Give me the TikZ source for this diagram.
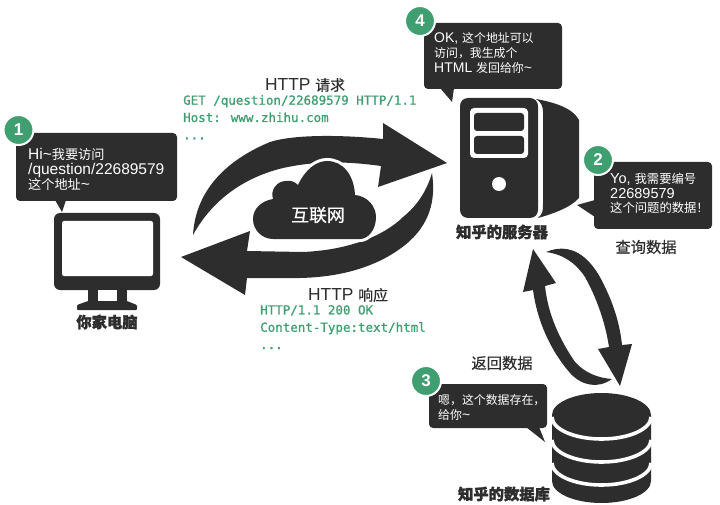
\documentclass[tikz,border=0pt]{standalone}
\usepackage{fontspec}
\setmainfont{Liberation Sans}
\newfontfamily\cjk[Scale=0.85,BoldFeatures={FakeBold=1.6}]{Noto Sans CJK SC}
\newfontfamily\cjkmid[Scale=0.85,FakeBold=0.5]{Noto Sans CJK SC}
\newfontfamily\codefont[FakeBold=1]{DejaVu Sans Mono}
\newcommand{\zh}[1]{{\cjk #1}}
\newcommand{\zm}[1]{{\cjkmid #1}}
\usetikzlibrary{positioning}
\definecolor{ink}{HTML}{2D2D2D}
\definecolor{leaf}{HTML}{3F9F70}
\tikzset{
  blob/.style={fill=ink},
  gap/.style={fill=white},
  cut/.style={draw=white,line width=3.6pt},
  bubble/.style={fill=ink,rounded corners=4pt},
  badge/.style={circle,fill=leaf,draw=white,line width=2pt,minimum size=30pt,text=white,font=\fontsize{17}{17}\selectfont\bfseries},
  saytext/.style={anchor=west,align=left,text=white,font=\fontsize{15.5}{15}\selectfont},
  title/.style={text=ink,font=\fontsize{17.4}{17}\selectfont},
  caption/.style={text=ink,font=\fontsize{18}{18}\selectfont\cjkmid},
  machine/.style={text=ink,font=\fontsize{18}{18}\selectfont\cjk\bfseries},
  codetext/.style={anchor=north west,align=left,text=leaf,font=\fontsize{12.5}{17.3}\selectfont\codefont}
}
\begin{document}
\begin{tikzpicture}[x=1pt,y=1pt]
                    \tikzstyle{every node}+=[inner sep=0pt]
                    \useasboundingbox (0,0) rectangle (720,-505);
                    \fill [bubble] (16,-133) rectangle (177,-201);
                    \fill [blob] (55,-200) -- (62,-212) -- (66,-200) -- cycle;
                    \node [saytext] (say1) at (28,-169) {Hi\textasciitilde\zh{我要访问}\\/question/22689579\\\zh{这个地址}\textasciitilde};
                    \node [badge] (badge1) at (18.5,-130) {1};
                    \fill [blob, rounded corners=6pt] (54,-213) rectangle (160,-290);
                    \fill [gap, rounded corners=2pt] (62,-221) rectangle (153,-276);
                    \fill [blob] (88,-289) rectangle (127,-302);
                    \fill [gap] (98,-290) rectangle (117,-301);
                    \fill [blob, rounded corners=1pt] (77,-310) -- (77,-305) -- (88,-301) -- (127,-301) -- (137,-305) -- (137,-310) -- cycle;
                    \node [machine] (pc) at (107,-322) {你家电脑};
                    \fill [blob] (193,-235) .. controls (195,-200) and (215,-165) .. (270,-142) .. controls (295,-134) and (345,-135) .. (383,-139) -- (383,-123) -- (447,-163) -- (378,-187) -- (381,-166) .. controls (345,-161) and (315,-161) .. (283,-168) .. controls (250,-176) and (215,-195) .. (193,-235) -- cycle;
                    \fill [blob] (432,-173) .. controls (436,-200) and (430,-225) .. (405,-245) .. controls (380,-265) and (345,-277) .. (300,-278) -- (247,-278) -- (245,-295) -- (181,-257) -- (250,-231) -- (247,-251) -- (303,-252) .. controls (350,-250) and (385,-235) .. (403,-217) .. controls (418,-205) and (427,-190) .. (432,-173) -- cycle;
                    \draw [white, line width=6pt, fill=white] (273,-239) .. controls (262,-239) and (253,-230) .. (253,-219) .. controls (253,-209) and (261,-201) .. (273,-199) .. controls (270,-190) and (277,-181) .. (286,-181) .. controls (291,-180) and (295,-182) .. (298,-185) .. controls (305,-170) and (316,-161) .. (327,-161) .. controls (343,-161) and (354,-175) .. (355,-195) .. controls (367,-196) and (376,-206) .. (376,-217) .. controls (376,-230) and (368,-239) .. (360,-239) -- cycle;
                    \fill [blob] (273,-239) .. controls (262,-239) and (253,-230) .. (253,-219) .. controls (253,-209) and (261,-201) .. (273,-199) .. controls (270,-190) and (277,-181) .. (286,-181) .. controls (291,-180) and (295,-182) .. (298,-185) .. controls (305,-170) and (316,-161) .. (327,-161) .. controls (343,-161) and (354,-175) .. (355,-195) .. controls (367,-196) and (376,-206) .. (376,-217) .. controls (376,-230) and (368,-239) .. (360,-239) -- cycle;
                    \node [text=white, font=\fontsize{21}{21}\selectfont\cjkmid] (net) at (318,-215) {互联网};
                    \node [title] (ask) at (305,-85) {HTTP \zm{请求}};
                    \node [codetext] (askcode) at (183,-95) {GET /question/22689579 HTTP/1.1\\Host: www.zhihu.com\\...};
                    \node [title] (reply) at (348,-295) {HTTP \zm{响应}};
                    \node [codetext] (replycode) at (260,-305) {HTTP/1.1 200 OK\\Content-Type:text/html\\...};
                    \fill [blob, rounded corners=8pt] (460,-98) rectangle (538,-218);
                    \fill [gap, rounded corners=4pt] (470,-108) rectangle (528,-158);
                    \fill [blob, rounded corners=3pt] (474,-113) rectangle (524,-131);
                    \fill [blob, rounded corners=3pt] (474,-136) rectangle (524,-154);
                    \fill [gap] (499,-184) circle (7);
                    \fill [blob] (536,-99) .. controls (552,-102) and (572,-107) .. (579,-120) -- (579,-198) .. controls (570,-208) and (552,-214) .. (538,-218) .. controls (543,-214) and (543,-210) .. (543,-203) -- (543,-112) .. controls (543,-106) and (541,-102) .. (536,-99) -- cycle;
                    \node [machine] (server) at (502,-232) {知乎的服务器};
                    \fill [bubble] (424,-23) rectangle (562,-89);
                    \fill [blob] (440,-88) -- (452,-102) -- (454,-88) -- cycle;
                    \node [saytext, font=\fontsize{14}{15}\selectfont] (say4) at (434,-53) {OK, \zh{这个地址可以}\\\zh{访问，我生成个}\\HTML \zh{发回给你}\textasciitilde};
                    \node [badge] (badge4) at (420,-21) {4};
                    \fill [bubble] (594,-162) rectangle (712,-229);
                    \fill [blob] (595,-200) -- (577,-205) -- (595,-217) -- cycle;
                    \node [saytext, font=\fontsize{14.5}{14.5}\selectfont] (say2) at (610,-193.5) {Yo, \zh{我需要编号}\\22689579\\\zh{这个问题的数据！}};
                    \node [badge] (badge2) at (598,-160) {2};
                    \node [caption] (query) at (646,-247) {查询数据};
                    \fill [blob] (546,-252) .. controls (570,-242) and (590,-255) .. (604,-285) .. controls (614,-305) and (620,-325) .. (622,-345) -- (632,-344) -- (620,-386) -- (598,-349) -- (609,-347) .. controls (605,-320) and (595,-295) .. (585,-277) .. controls (575,-262) and (562,-254) .. (546,-252) -- cycle;
                    \fill [blob] (533,-249) -- (556,-283) -- (545,-286) .. controls (548,-315) and (560,-340) .. (575,-362) .. controls (585,-373) and (598,-378) .. (612,-379) .. controls (598,-389) and (582,-386) .. (570,-373) .. controls (550,-350) and (537,-320) .. (533,-290) -- (523,-292) -- cycle;
                    \node [caption] (back) at (502,-363) {返回数据};
                    \fill [bubble] (429,-384) rectangle (547,-428);
                    \fill [blob] (526,-427) -- (545,-442) -- (539,-427) -- cycle;
                    \node [saytext, font=\fontsize{14}{15}\selectfont] (say3) at (438,-407.5) {\zh{嗯，这个数据存在，}\\\zh{给你}\textasciitilde};
                    \node [badge] (badge3) at (426,-381) {3};
                    \fill [blob] (552,-415) arc (180:0:49.5 and 22) -- (651,-481) arc (0:-180:49.5 and 22) -- cycle;
                    \draw [cut] (552,-417) arc (180:360:49.5 and 22);
                    \draw [cut] (552,-440) arc (180:360:49.5 and 22);
                    \draw [cut] (552,-463) arc (180:360:49.5 and 22);
                    \node [machine] (store) at (504,-494) {知乎的数据库};
                \end{tikzpicture}
\end{document}
